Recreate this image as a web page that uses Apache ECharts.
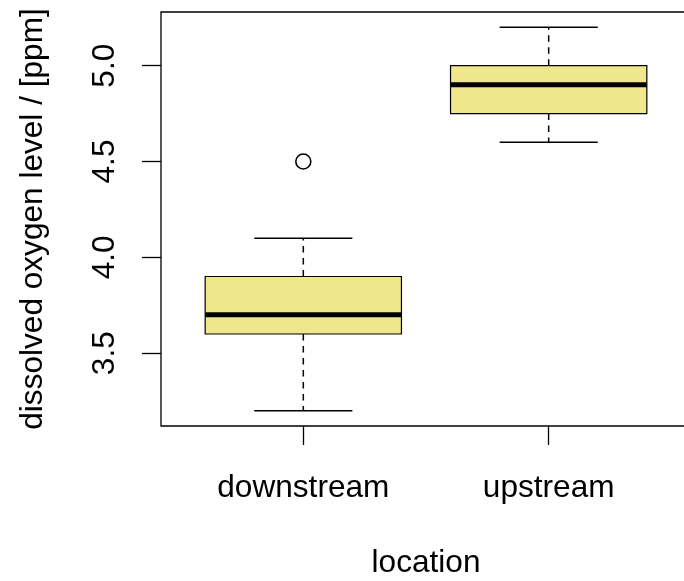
<!DOCTYPE html>
<html>
<head>
<meta charset="utf-8">
<script src="https://cdn.jsdelivr.net/npm/echarts@6/dist/echarts.min.js"></script>
<style>
  html, body { margin: 0; padding: 0; background: #fff; overflow: hidden; }
  #chart { width: 684px; height: 581px; }
</style>
</head>
<body>
<div id="chart"></div>
<script>
// Dissolved oxygen by sampling location: five-number summaries per group
const locations = ['downstream', 'upstream'];
const whiskerLow = [3.2, 4.6];
const lowerQuartile = [3.6, 4.75];
const medianValue = [3.7, 4.9];
const upperQuartile = [3.9, 5.0];
const whiskerHigh = [4.1, 5.2];
const outlierLocation = ['downstream'];
const outlierValue = [4.5];
const yTicks = [3.5, 4.0, 4.5, 5.0];

const FONT = 'Liberation Sans, Arial, Helvetica, sans-serif';
const FONT_SIZE = 31.6;

const boxData = locations.map((name, i) => [
  i + 1, whiskerLow[i], lowerQuartile[i], medianValue[i], upperQuartile[i], whiskerHigh[i]
]);
const outlierData = outlierLocation.map((name, i) => [locations.indexOf(name) + 1, outlierValue[i]]);

function renderBox(params, api) {
  const x = api.value(0);
  const low = api.coord([x, api.value(1)]);
  const q1 = api.coord([x, api.value(2)]);
  const med = api.coord([x, api.value(3)]);
  const q3 = api.coord([x, api.value(4)]);
  const high = api.coord([x, api.value(5)]);
  const halfBox = api.size([0.8, 0])[0] / 2;
  const halfCap = halfBox / 2;
  const cx = low[0];
  const whiskerStyle = { stroke: '#000', lineWidth: 1.5, lineDash: [6.5, 5.5] };
  const capStyle = { stroke: '#000', lineWidth: 1.5 };
  return {
    type: 'group',
    children: [
      { type: 'line', shape: { x1: cx, y1: q3[1], x2: cx, y2: high[1] }, style: whiskerStyle },
      { type: 'line', shape: { x1: cx, y1: q1[1], x2: cx, y2: low[1] }, style: whiskerStyle },
      { type: 'line', shape: { x1: cx - halfCap, y1: high[1], x2: cx + halfCap, y2: high[1] }, style: capStyle },
      { type: 'line', shape: { x1: cx - halfCap, y1: low[1], x2: cx + halfCap, y2: low[1] }, style: capStyle },
      { type: 'rect', shape: { x: cx - halfBox, y: q3[1], width: 2 * halfBox, height: q1[1] - q3[1] },
        style: { fill: '#F0E68C', stroke: '#000', lineWidth: 1.2 } },
      { type: 'line', shape: { x1: cx - halfBox, y1: med[1], x2: cx + halfBox, y2: med[1] },
        style: { stroke: '#000', lineWidth: 5 } }
    ]
  };
}

const chart = echarts.init(document.getElementById('chart'), null, { renderer: 'canvas' });
chart.setOption({
  animation: false,
  backgroundColor: '#fff',
  textStyle: { fontFamily: FONT },
  grid: {
    left: 161, top: 12, width: 530, height: 414,
    outerBoundsMode: 'none',
    containLabel: false,
    show: true, borderColor: '#000', borderWidth: 1.3, backgroundColor: 'transparent'
  },
  xAxis: {
    type: 'value',
    min: 0.42, max: 2.58,
    splitLine: { show: false },
    axisLine: { show: false },
    axisTick: { show: true, length: 19, customValues: [1, 2], lineStyle: { color: '#000', width: 1.3 } },
    axisLabel: {
      customValues: [1, 2],
      formatter: v => locations[Math.round(v) - 1] || '',
      color: '#000', fontFamily: FONT, fontSize: FONT_SIZE, margin: 46
    },
    name: 'location',
    nameLocation: 'middle',
    nameGap: 121,
    nameTextStyle: { color: '#000', fontFamily: FONT, fontSize: FONT_SIZE }
  },
  yAxis: {
    type: 'value',
    min: 3.12, max: 5.28,
    splitLine: { show: false },
    axisLine: { show: false },
    axisTick: { show: true, length: 19, customValues: yTicks, lineStyle: { color: '#000', width: 1.3 } },
    axisLabel: {
      customValues: yTicks,
      rotate: 90,
      formatter: v => v.toFixed(1),
      color: '#000', fontFamily: FONT, fontSize: FONT_SIZE, margin: 40
    },
    name: 'dissolved oxygen level / [ppm]',
    nameLocation: 'middle',
    nameRotate: 90,
    nameGap: 112,
    nameTextStyle: { color: '#000', fontFamily: FONT, fontSize: FONT_SIZE }
  },
  series: [
    {
      type: 'custom',
      renderItem: renderBox,
      encode: { x: 0, y: [1, 2, 3, 4, 5] },
      data: boxData,
      silent: true
    },
    {
      type: 'scatter',
      data: outlierData,
      symbol: 'circle',
      symbolSize: 15,
      itemStyle: { color: 'rgba(0,0,0,0)', borderColor: '#000', borderWidth: 1.6, opacity: 1 },
      silent: true
    }
  ]
});
</script>
</body>
</html>
